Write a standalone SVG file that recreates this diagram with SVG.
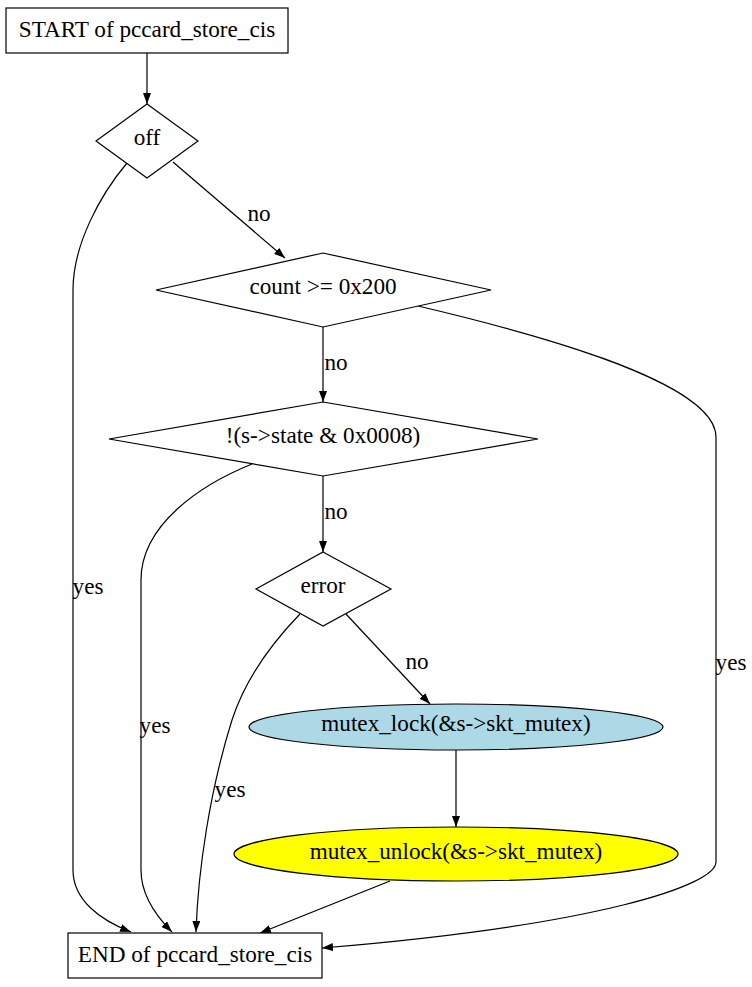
<svg xmlns="http://www.w3.org/2000/svg" width="752" height="987" viewBox="0 0 752 987">
<style>
text{font-family:"Liberation Serif","Times New Roman",serif;font-size:23.2px;fill:#000;text-anchor:middle;dominant-baseline:central}
.n{stroke:#000;stroke-width:1.2;fill:#fff}
.e{stroke:#000;stroke-width:1.2;fill:none;marker-end:url(#a)}
</style>
<defs>
<marker id="a" markerWidth="11" markerHeight="8" refX="11" refY="4" orient="auto" markerUnits="userSpaceOnUse"><path d="M0,0 L11,4 L0,8 z" fill="#000"/></marker>
</defs>
<rect width="752" height="987" fill="#fff"/>
<g id="edges">
<path class="e" d="M147,53 L147,104"/>
<path class="e" d="M173,162 L285,258"/>
<text x="259" y="213">no</text>
<path class="e" d="M127,163 C100,195 73,245 73,290 L73,870 C73,900 100,920 131,932"/>
<text x="88" y="586">yes</text>
<path class="e" d="M323,327 L323,402"/>
<text x="336" y="362">no</text>
<path class="e" d="M418,306 C520,330 716,380 716,437 L716,862 C716,885 600,925 322,948"/>
<text x="731" y="662">yes</text>
<path class="e" d="M323,476 L323,552"/>
<text x="336" y="511">no</text>
<path class="e" d="M252,464 C200,485 141,525 141,580 L141,870 C141,895 155,915 172,932"/>
<text x="155" y="725">yes</text>
<path class="e" d="M300,614 C270,645 245,680 232,720 C210,790 198,870 196,932"/>
<text x="230" y="789">yes</text>
<path class="e" d="M346,614 L430,704"/>
<text x="417" y="661">no</text>
<path class="e" d="M456,750 L456,827"/>
<path class="e" d="M390,881 L260,933"/>
</g>
<g id="start"><rect class="n" x="6" y="8" width="282" height="45"/><text x="147" y="29">START of pccard_store_cis</text></g>
<g id="off"><polygon class="n" points="147,104 198,141 147,178 96,141"/><text x="147" y="137">off</text></g>
<g id="count"><polygon class="n" points="323,253 491,290 323,327 156,290"/><text x="323" y="286">count &gt;= 0x200</text></g>
<g id="state"><polygon class="n" points="323,402 538,439 323,476 109,439"/><text x="323" y="435">!(s-&gt;state &amp; 0x0008)</text></g>
<g id="error"><polygon class="n" points="323,552 391,589 323,626 256,589"/><text x="323" y="585">error</text></g>
<g id="lock"><ellipse class="n" cx="456" cy="727" rx="207" ry="23" style="fill:#add8e6"/><text x="456" y="723">mutex_lock(&amp;s-&gt;skt_mutex)</text></g>
<g id="unlock"><ellipse class="n" cx="456" cy="854" rx="222" ry="27" style="fill:#ffff00"/><text x="456" y="851">mutex_unlock(&amp;s-&gt;skt_mutex)</text></g>
<g id="end"><rect class="n" x="68" y="933" width="254" height="45"/><text x="195" y="954">END of pccard_store_cis</text></g>
</svg>
